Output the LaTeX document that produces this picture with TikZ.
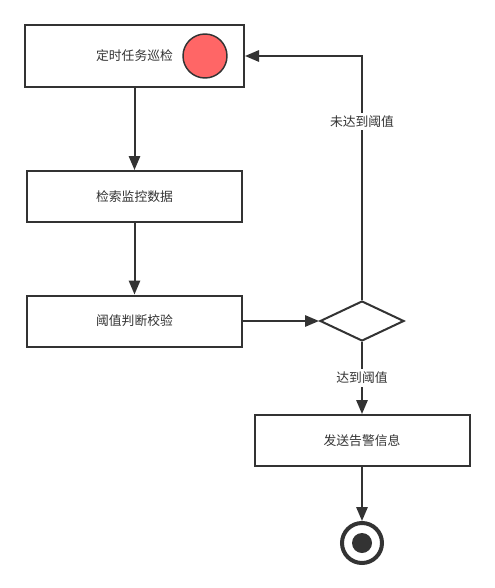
\documentclass[tikz,border=0pt]{standalone}
\usepackage{fontspec}
\newfontfamily\cjk{Noto Sans CJK SC}
\usepackage{tikz}
\usetikzlibrary{arrows.meta,positioning,shapes.geometric}
\definecolor{ink}{RGB}{51,51,51}
\definecolor{alarm}{RGB}{255,102,102}

\begin{document}
\begin{tikzpicture}[x=0.75pt, y=-0.75pt,
      actbox/.style={draw=ink, line width=1.5pt, fill=white, text=ink,
        minimum width=161.25pt, minimum height=38.25pt, inner sep=2pt,
        font=\cjk\fontsize{9.6}{12}\selectfont},
      decision/.style={draw=ink, line width=1.5pt, fill=white, diamond,
        minimum width=63pt, minimum height=30pt, inner sep=0pt},
      guard/.style={fill=white, text=ink, inner sep=2pt,
        font=\cjk\fontsize{9.6}{12}\selectfont},
      flow/.style={-{Triangle[length=10.5pt, width=8.5pt]}, line width=1.5pt, draw=ink},
    ]
    \useasboundingbox (0,0) rectangle (495,588);
    % Timer task
    \node[actbox, minimum width=164.25pt, minimum height=46.5pt]
      (timer) at (134.5,56) {定时任务巡检};
    \node[draw=ink, line width=1.1pt, fill=alarm, circle, minimum size=33pt,
      inner sep=0pt] (startdot) at (205,56) {};
    % Fetch monitoring data
    \node[actbox] (fetch) at (134.5,196.5) {检索监控数据};
    % Threshold check
    \node[actbox] (judge) at (134.5,321) {阈值判断校验};
    \node[decision] (check) at (362,321) {};
    % Alert
    \node[actbox] (alert) at (362,440.5) {发送告警信息};
    % Final state
    \node[draw=ink, line width=3pt, circle, minimum size=30pt, inner sep=0pt]
      (stop) at (362,543) {};
    \node[fill=ink, circle, minimum size=15pt, inner sep=0pt] (stopdot) at (stop) {};

    % Control flow
    \draw[flow] (timer) -- (fetch);
    \draw[flow] (fetch) -- (judge);
    \draw[flow] (judge.east) -- (check.west);
    \draw[flow] (check.north) |- node[guard, pos=0.365] {未达到阈值} (timer.east);
    \draw[flow] (check.south) -- node[guard] {达到阈值} (alert.north);
    \draw[flow] (alert.south) -- (stop.north);
  \end{tikzpicture}
\end{document}
